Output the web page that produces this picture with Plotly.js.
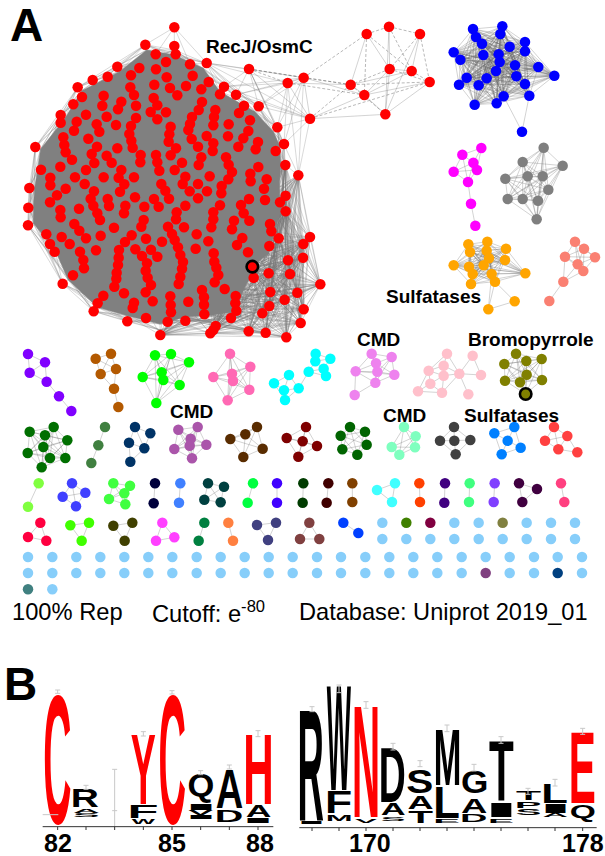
<!DOCTYPE html>
<html><head><meta charset="utf-8">
<script src="https://cdn.plot.ly/plotly-3.0.1.min.js"></script>
<style>html,body{margin:0;padding:0;background:#fff}#g{width:605px;height:856px}</style>
</head><body><div id="g"></div>
<script>
const giantNodes=[523,82,436,134,523,138,527,163,467,163,498,186,570,193,620,189,352,200,418,204,468,208,323,230,393,226,278,240,500,232,578,227,233,262,463,254,510,264,558,258,626,246,672,260,604,268,660,283,246,291,311,287,391,262,402,285,532,286,708,284,220,313,307,317,364,305,354,328,461,294,472,316,408,317,606,306,596,330,732,317,776,319,717,339,452,336,498,337,258,344,320,350,182,345,182,368,408,354,646,330,642,351,576,351,570,372,640,376,750,361,686,373,230,365,222,392,290,373,348,375,298,395,393,378,472,358,512,380,565,390,832,382,745,393,508,403,388,402,506,425,394,422,620,408,684,409,575,417,640,430,730,415,190,412,193,435,774,426,715,440,852,432,398,443,265,416,528,445,594,440,767,448,106,441,197,457,291,440,352,445,827,453,275,462,512,466,422,465,638,453,468,465,320,467,604,472,678,472,216,479,283,489,335,488,421,487,472,487,596,495,546,488,686,494,856,495,181,500,123,509,258,510,364,510,478,512,524,510,696,516,775,501,895,526,751,521,151,533,225,532,311,532,356,533,402,532,556,530,629,529,685,538,752,544,800,538,151,556,373,553,548,552,484,552,594,552,665,558,254,552,197,566,88,564,792,566,282,574,360,575,496,572,569,574,621,574,664,580,171,586,272,596,405,592,323,597,462,597,507,596,594,595,857,587,747,597,795,600,150,607,840,607,280,617,327,618,476,620,376,617,433,620,556,617,660,616,723,615,85,623,237,626,181,630,372,640,292,640,530,637,640,637,731,640,857,634,182,652,300,660,431,660,528,658,640,658,702,662,748,662,84,676,223,672,424,680,342,683,504,680,552,682,634,682,810,672,238,692,696,688,814,694,395,706,516,702,590,703,302,707,139,703,185,711,258,715,438,716,524,720,836,715,930,711,375,726,486,725,625,724,727,714,711,735,150,732,209,732,910,732,808,738,534,742,164,755,240,755,288,751,357,750,406,748,453,749,587,746,541,765,641,760,744,757,356,773,426,768,472,770,250,780,549,786,643,785,864,781,909,773,354,795,252,805,441,790,546,806,649,803,350,818,437,812,219,826,541,830,655,825,806,820,870,822,761,833,443,833,349,836,453,855,536,852,644,847,343,860,961,853,188,851,606,870,674,867,372,880,437,877,811,876,892,878,310,887,511,889,612,892,707,888,565,905,458,904,402,908,854,899,293,910,512,915,612,914,706,910,808,918,398,924,281,934,513,937,911,928,787,940,613,943,709,932,438,954,693,954,382,964,503,965,556,962,902,969,647,978,640,990,481,1005,631,1000,746,994,797,998,859,1012];
const giantMarked=[757,800];
const giantRim=[436,134,523,150,620,190,672,260,776,319,832,382,852,432,856,495,850,560,857,634,836,715,820,770,780,800,745,870,720,950,640,960,560,965,480,990,380,964,281,934,188,851,150,760,84,676,85,623,88,564,106,441,182,345,233,262,352,200];
const giantCore=[440,150,523,165,610,205,660,275,765,335,820,395,838,435,842,495,838,560,842,630,822,705,805,760,770,790,735,860,705,935,640,945,560,950,480,972,385,948,292,922,205,840,165,750,100,670,100,623,104,564,122,447,195,355,245,272,358,215];
const giantFringe=[806,820,870,822,864,781,909,773,910,732,930,711,961,853,811,876,892,878,854,899,808,918,911,928,787,940,902,969,746,994,797,998,859,1012,631,1000,647,978,481,1005,895,526,856,495,857,587,840,607,857,634,836,715];
const giantAnchors=[600,700,700,760,720,680,500,850,640,860,800,600,760,820,560,920,440,930,300,900,690,900];
const topFan=[523,82,436,134,523,138,467,163,570,193,620,189];
const recNodes=[747,207,863,249,911,233,930,356,1100,102,1167,80,1260,102,1169,207,1235,213,1289,246,1052,254,1093,285,1156,343];
const recSolid=[4,7,4,10,5,7,5,12,6,8,6,12,7,8,7,11,7,12,8,10,8,11,9,11,9,12,10,11,11,12,1,2,1,3,2,3,2,11,3,11,3,12,1,10,0,3];
const recDashed=[4,5,5,6,4,8,4,11,5,8,6,7,6,9,7,9,7,10,8,9,9,10,10,12,0,1,0,2,2,10,3,10,1,11,2,4,3,9,0,10];
const recLinks=[620,189,672,260,708,284,776,319,832,382,852,432,895,526];

const blueCore=[399,87,487,79,481,102,408,111,426,131,555,126,509,140,555,154,341,157,361,179,430,165,476,163,479,186,525,196,595,201,643,227,468,213,380,233,440,235,529,229,357,254,416,256,555,252,568,287,491,289,470,310,404,314];
const bluePendant=[546,395,491,289,568,287];
const magentaNodes=[424,444,367,464,400,488,411,510,341,515,384,546,393,611,406,677];
const magentaEdges=[0,1,0,2,0,3,1,2,1,4,1,5,2,3,2,4,2,5,3,4,3,5,4,5,5,6,6,7];
const grayNodes=[611,443,548,486,668,497,496,536,563,529,608,529,625,569,503,597,548,597,594,602,590,658];
const orangeNodes=[385,733,442,725,498,746,390,756,440,752,447,775,495,780,341,796,387,800,431,796,398,822,455,822,556,820,393,852,465,845,524,904,445,928];
const salmonNodes=[705,725,732,746,675,770,765,772,713,793,730,813,670,845,628,903];

const purpleNodes=[84,72,135,97,89,128,140,155,177,199,214,243];
const purpleEdges=[0,1,0,2,1,2,1,3,2,3,3,4,4,5];
const brownNodes=[333,71,287,86,348,117,302,132,342,176,355,231];
const brownEdges=[0,1,0,2,0,3,1,2,1,3,2,3,2,4,3,4,4,5];
const limeNodes=[465,76,513,72,567,97,428,141,485,127,490,150,539,165,469,219];
const hotpinkNodes=[690,71,751,110,640,141,696,131,699,153,748,179,683,211];
const cyanNodes=[867,135,822,160,852,181,855,210,896,175,947,71,991,86,946,94,926,125,971,116,978,138];
const cyanEdges=[0,1,0,2,0,4,1,2,1,3,2,3,2,4,3,4,4,8,5,6,5,7,6,7,7,8,7,9,8,9,8,10,9,10,6,9];
const violetNodes=[1115,71,1175,81,1128,100,1132,125,1067,124,1183,134,1126,158,1064,195];
const violetEdges=[0,1,0,2,0,3,0,4,1,2,1,3,1,5,1,6,2,3,2,4,2,5,2,6,3,4,3,5,3,6,4,5,4,6,5,6,7,4,7,6];
const pinkNodes=[1341,71,1418,77,1331,107,1286,122,1331,137,1378,131,1443,135,1291,161,1254,184,1326,188,1405,193];
const pinkEdges=[0,2,0,3,2,3,2,4,3,4,2,5,4,5,0,5,5,1,5,6,1,6,3,7,4,7,7,8,7,9,4,9,8,9,5,9,5,10,3,8];
const oliveNodes=[1548,71,1513,102,1579,93,1625,87,1515,152,1580,134,1560,157,1626,150];
const oliveMarked=[1577,192];

const forestNodes=[89,305,161,291,135,316,202,331,130,351,83,369,150,384,196,384,125,412];
const mossNodes=[315,291,295,346,274,399];
const mossEdges=[0,1,1,2];
const navyNodes=[405,291,451,310,387,338,433,355,391,395];
const navyEdges=[0,1,0,2,1,3,2,3,0,3,2,4,3,4];
const orchidNodes=[535,299,593,291,619,344,572,326,569,347,523,357,576,385];
const umberNodes=[771,291,736,313,691,327,788,356,730,381];
const maroonNodes=[860,324,918,291,908,334,951,348,895,380];
const pineNodes=[1050,291,1095,305,1022,317,1100,344,1027,358,1072,374];
const aquaNodes=[1212,291,1247,319,1175,351,1245,352,1198,374];
const charcoalNodes=[1362,291,1320,332,1363,332,1411,330,1367,373];
const charcoalEdges=[0,1,0,2,0,3,1,2,2,3,1,4,2,4,3,4];
const azureNodes=[1483,310,1543,291,1523,332,1562,353,1505,373];
const azureEdges=[0,1,0,2,1,3,3,4,4,0,2,3,1,2,2,4];
const coralNodes=[1662,291,1635,332,1702,318,1675,358,1732,367];
const coralEdges=[0,1,0,2,1,2,1,3,2,3,2,4,3,4,0,3];

const row3=[
 ['#80ff40',[116,460,84,530]],['#4040ff',[216,460,256,488,188,500,228,529]],
 ['#40ff40',[340,460,390,467,373,490,327,507,376,523]],['#00003c',[465,460,461,520]],
 ['#4080ff',[541,460,537,518]],['#004040',[624,460,672,470,613,509,662,517]],
 ['#00ff40',[759,460,743,518]],['#4000ff',[831,460,831,518]],['#003c00',[910,460,908,518]],
 ['#400000',[985,460,980,518]],['#804000',[1057,460,1057,516]],['#40ffff',[1185,460,1131,480,1176,516]],
 ['#ff4000',[1258,460,1260,516]],['#400080',[1335,460,1333,518]],['#40ff80',[1409,460,1407,516]],
 ['#8040ff',[1484,460,1481,516]],['#400040',[1557,460,1611,477,1567,516]],['#ff4080',[1683,460,1693,516]]];
const row4=[
 ['#ff0040',[121,578,84,621,139,632]],['#40ff00',[267,578,211,586,245,632]],
 ['#404000',[397,578,340,587,374,632]],['#ff40ff',[487,578,523,622,468,632]],
 ['#008040',[613,578,596,632]],['#ff8040',[685,578,699,632]],['#404080',[828,578,771,585,804,630]],
 ['#804040',[928,578,900,627,958,627]],['#0040ff',[1030,578,1075,609]]];

const singleLight=[1147,578,1363,578,1436,578,1580,578,1653,578,1725,578,1147,627,1219,627,1291,627,1363,627,1436,627,1508,627,1580,627,1653,627,1725,627,
 84,681,157,681,229,681,301,681,373,681,445,681,517,681,590,681,662,681,734,681,806,681,878,681,951,681,1023,681,1096,681,1168,681,1240,681,1312,681,1385,681,1457,681,1529,681,1602,681,1673,681,1746,681,
 84,729,157,729,229,729,301,729,373,729,445,729,517,729,590,729,662,729,734,729,806,729,878,729,951,729,1023,729,1096,729,1168,729,1240,729,1312,729,1385,729,1529,729,1602,729,1746,729,157,778];
const singleOther=[['#408000',[1219,578]],['#800040',[1291,578]],['#808040',[1508,578]],['#804080',[1457,729]],['#004080',[1673,729]],['#408080',[84,778]]];

const leftLetters=['C','R','A','S','F','W','Y','C','Q','I','V','I','A','D','H','A','I'];
const leftX0=[133,218,222,222,390,395,392,478,565,565,565,565,650,650,736,740,736];
const leftX1=[212,297,297,297,470,465,468,555,640,640,640,640,727,727,815,812,812];
const leftTop=[103,388,445,460,435,478,220,103,342,430,452,468,330,450,220,437,473];
const leftBot=[490,442,458,470,475,492,432,490,428,450,466,478,445,485,432,470,488];
const leftRed=[1,0,0,0,0,0,1,1,0,0,0,0,0,0,1,0,0];
const rightLetters=['R','I','W','F','M','N','V','D','A','S','S','A','T','M','L','E','G','A','D','T','I','E','T','P','S','L','I','A','E','Q'];
const rightX0=[28,28,110,112,112,192,195,272,275,275,352,355,355,436,436,436,516,516,516,597,597,600,678,680,680,760,760,760,842,842];
const rightX1=[102,100,183,182,182,265,262,345,345,345,428,428,428,508,508,508,590,590,590,670,670,670,752,752,752,832,832,832,915,915];
const rightTop=[148,485,75,392,465,135,475,262,432,472,328,408,455,207,380,478,333,415,465,240,428,480,393,425,447,370,432,460,215,435];
const rightBot=[482,493,390,458,484,470,488,425,465,484,398,448,490,375,474,488,398,458,486,420,472,490,420,445,465,428,458,470,428,484];
const rightRed=[0,0,0,0,0,1,0,0,0,0,0,0,0,0,0,0,0,0,0,0,0,0,0,0,0,0,0,0,1,0];

const leftTicks=[173,258,344,430,516,602,688,774];
const rightTicks=[66,147,228,309,390,471,552,633,714,795,878];
const leftErrTop=[90,376,328,215,92,332,315,212];
const leftErrBot=[100,388,452,228,102,344,327,230];
const rightErrTop=[140,75,125,250,302,195,313,230,385,358,205];
const rightErrBot=[155,98,145,270,320,215,333,250,403,378,223];

const NODE=10.5, EDGE='rgba(105,105,105,0.42)';
function pts(flat,ox,oy){const x=[],y=[];for(let i=0;i<flat.length;i+=2){x.push(flat[i]/3+ox);y.push(flat[i+1]/3+oy);}return {x,y};}
function clique(flat){const e=[],n=flat.length/2;for(let i=0;i<n;i++)for(let j=i+1;j<n;j++)e.push(i,j);return e;}
function addEdges(b,p,e){for(let k=0;k<e.length;k+=2){b.x.push(p.x[e[k]],p.x[e[k+1]],null);b.y.push(p.y[e[k]],p.y[e[k+1]],null);}}

const traces=[], nodeTraces=[];
const under={x:[],y:[]}, solid={x:[],y:[]}, dashed={x:[],y:[]};

function cluster(color,nodes,ox,oy,edges){
  const p=pts(nodes,ox,oy);
  addEdges(solid,p,edges||clique(nodes));
  nodeTraces.push({type:'scatter',mode:'markers',x:p.x,y:p.y,hoverinfo:'skip',
    marker:{size:NODE,color:color,line:{width:0}}});
}
function marked(color,node,ox,oy){
  const p=pts(node,ox,oy);
  nodeTraces.push({type:'scatter',mode:'markers',x:p.x,y:p.y,hoverinfo:'skip',
    marker:{size:11.5,color:color,line:{width:2.6,color:'#000'}}});
}

// giant cluster: rim and fringe mesh under a solid core
const fr=pts(giantFringe,0,0), an=pts(giantAnchors,0,0);
addEdges(under,fr,clique(giantFringe));
for(let i=0;i<fr.x.length;i++)for(let j=0;j<an.x.length;j++){under.x.push(fr.x[i],an.x[j],null);under.y.push(fr.y[i],an.y[j],null);}
const rim=pts(giantRim,0,0), core=pts(giantCore,0,0);
const rimEdges=[];
for(let i=0;i<rim.x.length;i++)for(let d=1;d<=3;d++){const j=(i+d)%rim.x.length;rimEdges.push(i,j);}
addEdges(under,rim,rimEdges);
for(let i=0;i<rim.x.length;i++)for(let d=-2;d<=2;d++){const j=(i+d+core.x.length)%core.x.length;under.x.push(rim.x[i],core.x[j],null);under.y.push(rim.y[i],core.y[j],null);}
const tf=pts(topFan,0,0);
for(let i=1;i<tf.x.length;i++){under.x.push(tf.x[0],tf.x[i],null);under.y.push(tf.y[0],tf.y[i],null);}
const rp=pts(recNodes,0,0), rl=pts(recLinks,0,0);
addEdges(dashed,rp,recDashed);
addEdges(solid,rp,recSolid);
for(let i=0;i<4;i++)for(let j=0;j<rl.x.length;j++){under.x.push(rp.x[i],rl.x[j],null);under.y.push(rp.y[i],rl.y[j],null);}

cluster('#ff0000',giantNodes,0,0,[]);
cluster('#ff0000',recNodes,0,0,[]);
marked('#ff0000',giantMarked,0,0);

cluster('#0000ff',blueCore,340,0);
const bp=pts(bluePendant,340,0); addEdges(solid,bp,[0,1,0,2]);
cluster('#0000ff',bluePendant.slice(0,2),340,0,[]);
cluster('#ff00ff',magentaNodes,340,0,magentaEdges);
cluster('#7f7f7f',grayNodes,340,0);
const orangeEdges=clique(orangeNodes.slice(0,30)).concat([14,15,15,16,14,16,11,16]);
cluster('#ffa500',orangeNodes,340,0,orangeEdges);
const salmonEdges=clique(salmonNodes.slice(0,12)).concat([6,2,6,4,6,5,6,7]);
cluster('#fa8072',salmonNodes,340,0,salmonEdges);

const O=[0,330];
cluster('#8000ff',purpleNodes,...O,purpleEdges);
cluster('#b35900',brownNodes,...O,brownEdges);
cluster('#00ff00',limeNodes,...O);
cluster('#ff69b4',hotpinkNodes,...O);
cluster('#00ffff',cyanNodes,...O,cyanEdges);
cluster('#ee82ee',violetNodes,...O,violetEdges);
cluster('#ffc0cb',pinkNodes,...O,pinkEdges);
const ol=pts(oliveNodes.concat(oliveMarked),...O); addEdges(solid,ol,clique(oliveNodes.concat(oliveMarked)));
cluster('#808000',oliveNodes,...O,[]);
marked('#808000',oliveMarked,...O);
cluster('#006f00',forestNodes,...O);
cluster('#408040',mossNodes,...O,mossEdges);
cluster('#003366',navyNodes,...O,navyEdges);
cluster('#aa55aa',orchidNodes,...O);
cluster('#592c00',umberNodes,...O);
cluster('#7f0000',maroonNodes,...O);
cluster('#006400',pineNodes,...O);
cluster('#7fffbf',aquaNodes,...O);
cluster('#404040',charcoalNodes,...O,charcoalEdges);
cluster('#0080ff',azureNodes,...O,azureEdges);
cluster('#ff4040',coralNodes,...O,coralEdges);
row3.concat(row4).forEach(r=>cluster(r[0],r[1],...O));
cluster('#87cefa',singleLight,...O,[]);
singleOther.forEach(r=>cluster(r[0],r[1],...O,[]));

traces.push({type:'scatter',mode:'lines',x:under.x,y:under.y,hoverinfo:'skip',line:{color:'rgba(120,120,120,0.4)',width:0.7}});
traces.push({type:'scatter',mode:'lines',x:dashed.x,y:dashed.y,hoverinfo:'skip',line:{color:'rgba(110,110,110,0.7)',width:0.7,dash:'3px,2px'}});
traces.push({type:'scatter',mode:'lines',x:core.x.concat([core.x[0]]),y:core.y.concat([core.y[0]]),hoverinfo:'skip',fill:'toself',fillcolor:'#808080',line:{color:'#808080',width:0.5}});
traces.push({type:'scatter',mode:'lines',x:solid.x,y:solid.y,hoverinfo:'skip',line:{color:EDGE,width:0.7}});

// logo axes and error bars
const ax={x:[],y:[]}, err={x:[],y:[]};
function seg(b,x0,y0,x1,y1){b.x.push(x0,x1,null);b.y.push(y0,y1,null);}
const LO=[0,660], RO=[290,660];
seg(ax,128/3+LO[0],500/3+LO[1],820/3+LO[0],500/3+LO[1]);
leftTicks.forEach(t=>seg(ax,t/3,500/3+660,t/3,510/3+660));
seg(ax,28/3+290,503/3+660,920/3+290,503/3+660);
rightTicks.forEach(t=>seg(ax,t/3+290,503/3+660,t/3+290,513/3+660));
function errBars(ticks,top,bot,ox){ticks.forEach((t,i)=>{const X=t/3+ox,a=top[i]/3+660,b=bot[i]/3+660;
  seg(err,X,a,X,b);seg(err,X-2.5,a,X+2.5,a);seg(err,X-2.5,b,X+2.5,b);});}
errBars(leftTicks,leftErrTop,leftErrBot,0);
errBars(rightTicks,rightErrTop,rightErrBot,290);
seg(err,344/3,452/3+660,344/3,500/3+660);
seg(err,128/3,464/3+660,175/3,464/3+660);

traces.push(...nodeTraces);

// logo letters (stretched to their boxes after the plot is drawn)
const boxes=[];
function letters(L,X0,X1,T,B,R,ox){L.forEach((c,i)=>boxes.push({c,x0:X0[i]/3+ox,x1:X1[i]/3+ox,t:T[i]/3+660,b:B[i]/3+660,col:R[i]?'#ff0000':'#000000'}));}
letters(leftLetters,leftX0,leftX1,leftTop,leftBot,leftRed,0);
letters(rightLetters,rightX0,rightX1,rightTop,rightBot,rightRed,290);
traces.push({type:'scatter',mode:'text',x:boxes.map(b=>(b.x0+b.x1)/2),y:boxes.map(b=>b.b),text:boxes.map(b=>b.c),hoverinfo:'skip',cliponaxis:false,
  textposition:'middle center',textfont:{family:'Liberation Sans',size:40,weight:700,color:boxes.map(b=>b.col)}});
traces.push({type:'scatter',mode:'lines',x:err.x,y:err.y,hoverinfo:'skip',line:{color:'#c8c8c8',width:1}});
traces.push({type:'scatter',mode:'lines',x:ax.x,y:ax.y,hoverinfo:'skip',line:{color:'#333',width:1}});

function note(text,x,y,size,bold,anchor){return {text:bold?'<b>'+text+'</b>':text,x,y,xref:'x',yref:'y',showarrow:false,xanchor:anchor||'center',yanchor:'middle',
  font:{family:'Liberation Sans',size,color:'#000'}};}
const annotations=[
 note('A',26,25,46,true),note('B',20,684,46,true),
 note('RecJ/OsmC',259,46,19,true),note('Sulfatases',433,296,19,true),
 note('CMD',191,411,19,true),note('CMD',378,339,19,true),note('CMD',404,415,19,true),
 note('Bromopyrrole',531,339,19,true),note('Sulfatases',511,415,19,true),
 note('100% Rep',10,612,23.7,false,'left'),
 note('Cutoff: e<sup>-80</sup>',150,612,23.7,false,'left'),
 note('Database: Uniprot 2019_01',297,612,23.6,false,'left'),
 note('82',58,843,25,true),note('85',172,843,25,true),note('88',260,843,25,true),
 note('170',370,843,25,true),note('178',583,843,25,true)];

const layout={width:605,height:856,margin:{l:0,r:0,t:0,b:0,pad:0},paper_bgcolor:'#fff',plot_bgcolor:'#fff',showlegend:false,
  xaxis:{range:[0,605],visible:false,fixedrange:true},yaxis:{range:[856,0],visible:false,fixedrange:true},annotations};

Plotly.newPlot('g',traces,layout,{displayModeBar:false,staticPlot:true}).then(gd=>{
  const ctx=document.createElement('canvas').getContext('2d');
  ctx.font='bold 40px "Liberation Sans"';
  const xa=gd._fullLayout.xaxis, ya=gd._fullLayout.yaxis;
  gd.querySelectorAll('g.textpoint').forEach((g,i)=>{
    const b=boxes[i], el=g.querySelector('text'); if(!b||!el) return;
    const m=ctx.measureText(b.c), L=m.actualBoundingBoxLeft, R=m.actualBoundingBoxRight, A=m.actualBoundingBoxAscent, D=m.actualBoundingBoxDescent;
    const X0=xa.l2p(b.x0), X1=xa.l2p(b.x1), T=ya.l2p(b.t), B=ya.l2p(b.b);
    const sx=(X1-X0)/(L+R), sy=(B-T)/(A+D);
    el.setAttribute('x',0);el.setAttribute('y',0);el.setAttribute('text-anchor','start');el.removeAttribute('dy');
    el.style.textAnchor='start';
    el.querySelectorAll('tspan').forEach(t=>{t.removeAttribute('dy');t.removeAttribute('x');t.removeAttribute('y');});
    g.setAttribute('transform','translate('+(X0+sx*L)+','+(B-sy*D)+') scale('+sx+','+sy+')');
  });
});
</script></body></html>
